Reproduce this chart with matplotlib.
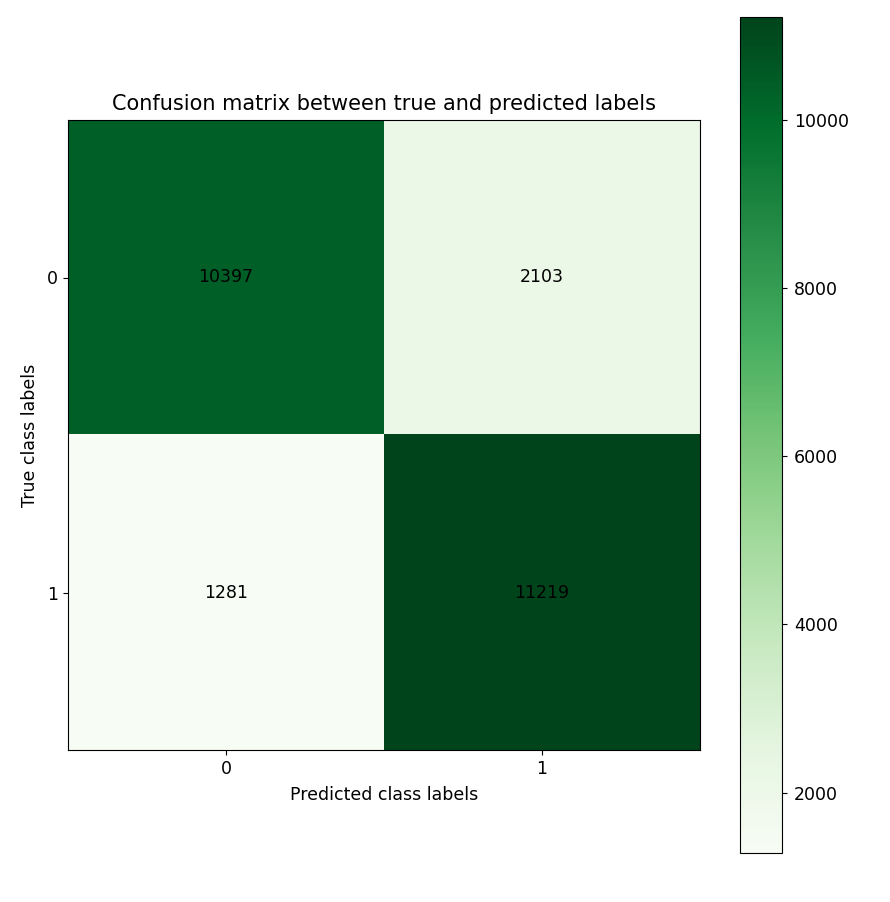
import matplotlib
matplotlib.use("Agg")
import matplotlib.pyplot as plt
import numpy as np

classes = ["0", "1"]
cm_values = [[10397, 2103],
             [1281, 11219]]
cbar_ticks = [2000, 4000, 6000, 8000, 10000]

cm = np.array(cm_values)
plt.rcParams['font.size'] = 12.5
plt.rcParams['font.family'] = ['DejaVu Sans']

fig = plt.figure(figsize=(8.9, 9.02), dpi=100)
ax = fig.add_axes([68/890, 152/902, 632/890, 630/902])
cax = fig.add_axes([740/890, 49/902, 42/890, 836/902])

im = ax.imshow(cm, cmap='Greens', interpolation='nearest', aspect='auto')
for i in range(cm.shape[0]):
    for j in range(cm.shape[1]):
        ax.text(j, i, str(cm[i, j]), ha='center', va='center', color='black', fontsize=12.5)

ax.set_xticks(range(len(classes)))
ax.set_xticklabels(classes)
ax.set_yticks(range(len(classes)))
ax.set_yticklabels(classes)
ax.set_xlabel("Predicted class labels", labelpad=6)
ax.set_ylabel("True class labels", labelpad=6)
ax.set_title("Confusion matrix between true and predicted labels", fontsize=15, pad=7)

cb = fig.colorbar(im, cax=cax)
cb.set_ticks(cbar_ticks)
cb.ax.tick_params(pad=5)

fig.savefig("out.png", dpi=100)
